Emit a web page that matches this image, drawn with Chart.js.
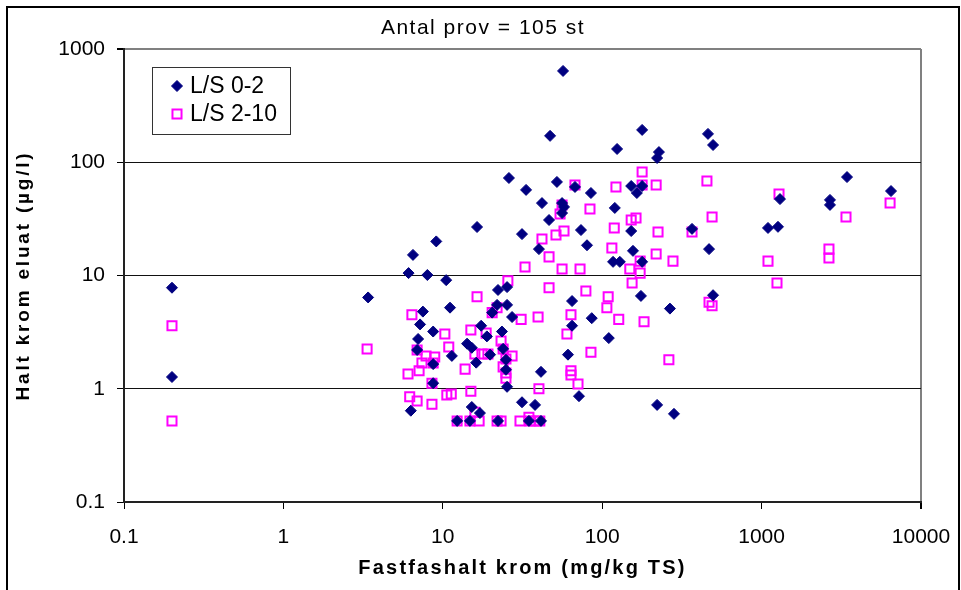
<!DOCTYPE html>
<html>
<head>
<meta charset="utf-8">
<script src="https://cdn.jsdelivr.net/npm/chart.js@4.4.1/dist/chart.umd.min.js"></script>
<style>
  html, body { margin: 0; padding: 0; background: #fff; overflow: hidden; }
  #frame { position: absolute; left: 6px; top: 6px; width: 950px; height: 600px; border: 2px solid #000; }
  canvas { display: block; }
</style>
</head>
<body>
<div id="frame"><canvas id="chart" width="950" height="600"></canvas></div>
<script>
// L/S 0-2 (filled navy diamonds)
const ls02X = [0.2, 0.2, 3.4, 9.1, 6.5, 6.1, 8.0, 7.5, 7.2, 8.7, 7.0, 6.9, 8.7, 8.7, 6.3,
  10.5, 11.1, 22.2, 25.3, 21.9, 25.3, 20.4, 27.2, 64.7, 86, 175, 266, 17.4, 18.9, 23.5,
  64.7, 110, 14.2, 15.2, 11.4, 16.2, 19.8, 23.9, 24.9, 24.9, 61, 41.3, 25.3, 71.5, 31.4,
  37.9, 221, 282, 15.2, 17.1, 12.3, 14.8, 22.2, 34.7, 41.3, 56.8, 47.1, 178, 124, 227,
  221, 26, 33.3, 52, 67.5, 85, 41.9, 56, 57.6, 56, 46.4, 120, 152, 165, 178,
  16.4, 31.4, 73.6, 152, 366, 40.1, 80.3, 156, 117, 129, 178, 461, 496, 3435, 6486,
  1304, 2685, 2685, 1097, 1267, 468, 496];
const ls02Y = [7.8, 1.27, 6.4, 20, 15.2, 10.5, 10.1, 4.8, 3.7, 3.2, 2.75, 2.2, 1.65, 1.12, 0.64,
  9.1, 5.2, 7.45, 7.9, 5.5, 5.5, 4.7, 4.3, 5.95, 4.2, 6.6, 5.1, 3.6, 2.9, 3.2,
  3.6, 2.8, 2.5, 2.3, 1.95, 1.7, 2.0, 2.25, 1.8, 1.47, 2.0, 1.41, 1.04, 0.86, 0.76,
  0.72, 0.72, 0.6, 0.69, 0.61, 0.52, 0.52, 0.52, 0.52, 0.52, 640, 171, 193, 131, 123,
  109, 72.6, 57, 67, 60.5, 53.5, 43.6, 43.6, 40.3, 35.6, 30.9, 39.5, 61.7, 53.5, 61.7,
  26.8, 23.2, 25.2, 24.7, 25.8, 17.1, 18.5, 16.5, 13.2, 13.2, 13.2, 178, 142, 74, 55.7,
  47.3, 46.5, 42, 26.3, 26.9, 17.1, 6.7];

// L/S 2-10 (hollow magenta squares)
const ls210X = [6.4, 0.2, 3.35, 6.9, 7.85, 8.9, 7.4, 7.1, 6.05, 8.55, 6.2, 6.9, 8.55, 0.2,
  178, 67.5, 122, 178, 218, 56, 54.4, 83.8, 152, 163, 119, 57.6, 224, 366, 51.3, 41.9,
  115, 218, 46.4, 173, 278, 32.8, 56, 72.6, 149, 173, 25.6, 46.4, 79, 154, 109, 107,
  16.4, 21.9, 20.4, 31, 39.6, 63.7, 127, 183, 10.3, 15, 18.7, 60.1, 10.9, 23.2, 23.9,
  85, 262, 15.9, 17.6, 19.2, 27.2, 24.9, 23.9, 24.9, 24.9, 13.8, 8.7, 63.7, 63.7, 70.5,
  40.1, 15, 10.6, 11.3, 15.9, 12.3, 14.8, 16.9, 21.9, 23.2, 30.5, 34.7, 35.2, 37.9, 40.6,
  454, 1286, 6397, 489, 3384, 2646, 2646, 1097, 1249, 468, 489];
const ls210Y = [4.5, 3.6, 2.24, 2.2, 1.95, 1.91, 1.69, 1.44, 1.35, 1.12, 0.85, 0.78, 0.73, 0.52,
  82, 63, 60.5, 63, 63, 42, 34.9, 38.6, 30.9, 32.2, 26.3, 24.7, 24.2, 24.2, 22.8, 21,
  17.5, 15.5, 14.6, 13.4, 13.4, 11.9, 11.4, 11.4, 11.4, 10.5, 9.0, 7.8, 7.3, 8.6, 6.5, 5.2,
  6.5, 5.2, 4.7, 4.1, 4.3, 4.5, 4.1, 3.9, 3.05, 3.3, 3.1, 3.05, 2.34, 2.64, 2.24,
  2.1, 1.8, 2.03, 2.03, 2.03, 1.95, 1.83, 1.56, 1.38, 1.24, 1.49, 1.69, 1.44, 1.32, 1.1,
  1.0, 0.95, 0.88, 0.9, 0.62, 0.52, 0.52, 0.52, 0.52, 0.52, 0.52, 0.56, 0.52, 0.52, 0.52,
  68.3, 52.5, 43.6, 32.9, 32.9, 17.1, 14.3, 13.4, 8.6, 5.8, 5.4];

const xTicks = [0.1, 1, 10, 100, 1000, 10000];
const xTickLabels = ['0.1', '1', '10', '100', '1000', '10000'];
const yTicks = [0.1, 1, 10, 100, 1000];
const yTickLabels = ['0.1', '1', '10', '100', '1000'];

const seriesNames = ['L/S 0-2', 'L/S 2-10'];
const chartTitle = 'Antal prov = 105 st';
const xTitle = 'Fastfashalt krom (mg/kg TS)';
const yTitle = 'Halt krom eluat (\u00b5g/l)';

const FONT = "'Liberation Sans', Arial, sans-serif";

function toPoints(xs, ys) {
    return xs.map((x, i) => ({ x: x, y: ys[i] }));
}

const ctx = document.getElementById('chart').getContext('2d');

// The Excel export spreads the title texts out, so widen them a little
const textSpacing = { [chartTitle]: '1.5px', [xTitle]: '2.2px', [yTitle]: '2.8px' };
const plainFillText = ctx.fillText;
ctx.fillText = function(text, x, y, maxWidth) {
    const ls = textSpacing[text];
    if (!ls) {
        return maxWidth === undefined ? plainFillText.call(this, text, x, y)
                                      : plainFillText.call(this, text, x, y, maxWidth);
    }
    const prev = this.letterSpacing;
    this.letterSpacing = ls;
    plainFillText.call(this, text, x, y);
    this.letterSpacing = prev;
};

// Legend box drawn inside the plot, like the Excel original
const boxLegend = {
    id: 'boxLegend',
    afterDraw(chart) {
        const c = chart.ctx;
        c.save();
        c.fillStyle = '#fff';
        c.fillRect(144, 59, 138, 67);
        c.strokeStyle = '#333';
        c.lineWidth = 1;
        c.strokeRect(144.5, 59.5, 138, 67);
        const rows = [78, 106];
        chart.data.datasets.forEach((ds, i) => {
            c.fillStyle = ds.backgroundColor;
            c.strokeStyle = ds.borderColor;
            c.lineWidth = ds.borderWidth;
            Chart.helpers.drawPoint(c, {
                pointStyle: ds.pointStyle,
                radius: ds.pointRadius,
                borderWidth: ds.borderWidth,
                rotation: 0
            }, 169, rows[i]);
            c.fillStyle = '#000';
            c.font = '23px ' + FONT;
            c.textBaseline = 'middle';
            c.textAlign = 'left';
            c.fillText(ds.label, 182, rows[i] + 1);
        });
        c.restore();
    }
};

new Chart(ctx, {
    type: 'scatter',
    data: {
        datasets: [
            {
                label: seriesNames[0],
                data: toPoints(ls02X, ls02Y),
                pointStyle: 'rectRot',
                pointRadius: 5.5,
                backgroundColor: '#000080',
                borderColor: '#000080',
                borderWidth: 1
            },
            {
                label: seriesNames[1],
                data: toPoints(ls210X, ls210Y),
                pointStyle: 'rect',
                pointRadius: 6.4,
                backgroundColor: 'rgba(0,0,0,0)',
                borderColor: '#ff00ff',
                borderWidth: 2
            }
        ]
    },
    options: {
        responsive: false,
        animation: false,
        devicePixelRatio: 1,
        layout: { padding: 0 },
        plugins: {
            legend: { display: false },
            tooltip: { enabled: false },
            title: {
                display: true,
                text: chartTitle,
                color: '#000',
                font: { family: FONT, size: 21, weight: 'normal', lineHeight: '26px' },
                padding: { top: 7, bottom: 8 }
            }
        },
        scales: {
            x: {
                type: 'logarithmic',
                min: 0.1,
                max: 10000,
                afterBuildTicks: s => { s.ticks = xTicks.map(v => ({ value: v })); },
                // room on the right is kept through the scale padding so the title stays centred on the canvas
                afterFit: s => { s.height = 106; s.paddingLeft = 0; s.paddingRight = 37; },
                ticks: {
                    callback: (v, i) => xTickLabels[i],
                    autoSkip: false,
                    maxRotation: 0,
                    padding: 16,
                    color: '#000',
                    font: { family: FONT, size: 21 }
                },
                grid: {
                    color: c => (c.tick && c.tick.value === 10000) ? '#808080' : 'rgba(0,0,0,0)',
                    lineWidth: c => (c.tick && c.tick.value === 10000) ? 2 : 1,
                    tickColor: '#000',
                    tickLength: 7
                },
                border: { color: '#222', width: 2 },
                title: {
                    display: true,
                    text: xTitle,
                    color: '#000',
                    font: { family: FONT, size: 20, weight: 'bold' },
                    padding: { top: 0, bottom: 28 }
                }
            },
            y: {
                type: 'logarithmic',
                min: 0.1,
                max: 1000,
                afterBuildTicks: s => { s.ticks = yTicks.map(v => ({ value: v })); },
                afterFit: s => { s.width = 116; },
                ticks: {
                    callback: (v, i) => yTickLabels[i],
                    autoSkip: false,
                    padding: 12,
                    color: '#000',
                    font: { family: FONT, size: 21 }
                },
                grid: {
                    color: c => (c.tick && c.tick.value === 1000) ? '#808080' : '#111',
                    lineWidth: c => (c.tick && c.tick.value === 1000) ? 2 : 1,
                    tickColor: '#000',
                    tickLength: 7
                },
                border: { color: '#222', width: 2 },
                title: {
                    display: true,
                    text: yTitle,
                    color: '#000',
                    font: { family: FONT, size: 19, weight: 'bold' },
                    padding: { top: 4, bottom: 0 }
                }
            }
        }
    },
    plugins: [boxLegend]
});
</script>
</body>
</html>
